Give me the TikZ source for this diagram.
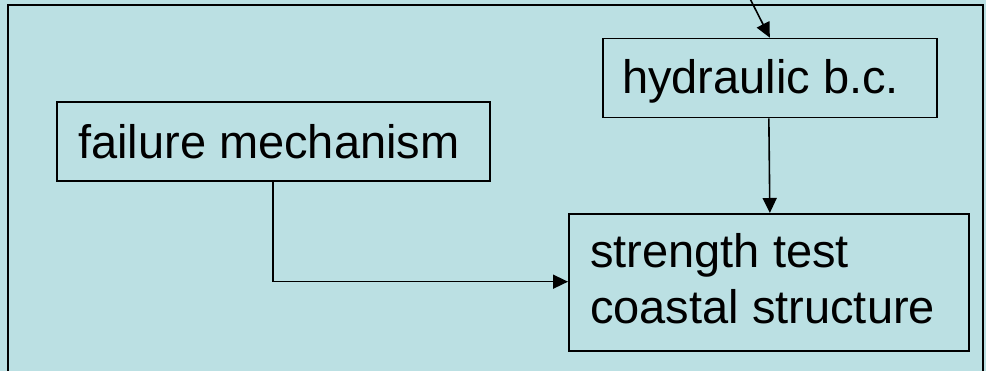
\documentclass[tikz,border=0pt]{standalone}
\usepackage{fontspec}
\setmainfont{Liberation Sans}
\usetikzlibrary{arrows.meta}
\definecolor{bgteal}{RGB}{187,224,227}
\begin{document}
\begin{tikzpicture}[x=1pt,y=-1pt,
  box/.style={draw=black,line width=1.7pt,rectangle,inner sep=0pt,anchor=north west},
  txt/.style={inner sep=0pt,font=\fontsize{47}{56.7}\selectfont},
  conn/.style={line width=1.6pt,-{Triangle[length=15pt,width=14pt]}}]
\useasboundingbox (0,0) rectangle (986,371);
\fill[bgteal] (0,0) rectangle (986,371);
\draw[line width=2.6pt] (8,400) -- (8,5) -- (983,5) -- (983,400);
% boxes
\node[box,minimum width=334pt,minimum height=79pt] (hb) at (602,37.7) {};
\node[box,minimum width=433pt,minimum height=79pt] (fm) at (56,101) {};
\node[box,minimum width=400pt,minimum height=137pt] (st) at (568,213) {};
% texts
\node[txt,anchor=base west] (hbt) at (622,94) {hydraulic b.c.};
\node[txt,anchor=base west] (fmt) at (78,159) {failure mechanism};
\node[txt,anchor=north west,align=left] (stt) at (590,233) {strength test\\coastal structure};
% connectors
\coordinate (src) at (740.5,-20);
\draw[conn] (src) -- (hb.north);
\draw[conn] (hb.south -| st.north) -- (st.north -| hb.south);
\draw[conn] ([xshift=-0.5pt]fm.south) |- (st.west |- 0,281.7);
\end{tikzpicture}
\end{document}
